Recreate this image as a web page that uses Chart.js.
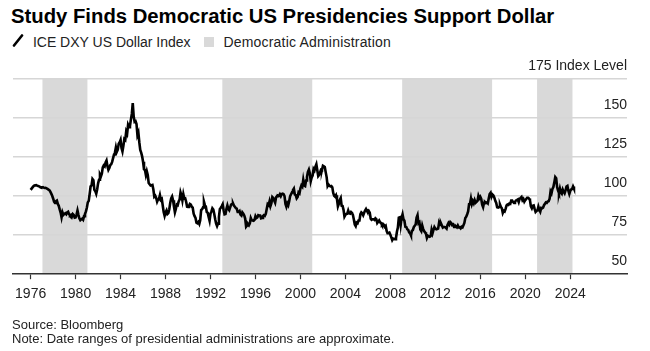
<!DOCTYPE html>
<html lang="en">
<head>
<meta charset="UTF-8">
<title>Study Finds Democratic US Presidencies Support Dollar</title>
<script src="https://cdn.jsdelivr.net/npm/chart.js"></script>
<style>
  body { margin: 0; width: 650px; height: 351px; background: #fff; position: relative; overflow: hidden;
         font-family: 'Liberation Sans', Arial, sans-serif; color: #000; }
  .title { position: absolute; left: 11px; top: 5px; font-size: 20.3px; font-weight: bold; white-space: nowrap; }
  .legend { position: absolute; left: 12px; top: 33px; font-size: 14px; color: #222; white-space: nowrap; }
  .legend span { display: inline-block; vertical-align: middle; }
  .swatch { width: 10px; height: 10px; background: #d9d9d9; margin: 0 5px 0 10px; }
  .footer { position: absolute; left: 12px; top: 318px; font-size: 13px; line-height: 14px; color: #222; }
  #chart { position: absolute; left: 0; top: 0; }
</style>
</head>
<body>
  <div class="title">Study Finds Democratic US Presidencies Support Dollar</div>
  <div class="legend">
    <span><svg width="12" height="13" viewBox="0 0 12 13"><line x1="2" y1="11.5" x2="10" y2="1.5" stroke="#000" stroke-width="2.6" stroke-linecap="round"/></svg></span>
    <span style="margin-left:5px">ICE DXY US Dollar Index</span>
    <span class="swatch"></span>
    <span style="letter-spacing:0.2px">Democratic Administration</span>
  </div>
  <canvas id="chart" width="650" height="351"></canvas>
  <div class="footer">Source: Bloomberg<br>Note: Date ranges of presidential administrations are approximate.</div>

<script>
// monthly ICE DXY readings, first value = January 1976
const startYear = 1976;
const dxy1970s = [
  104.0, 104.8, 105.6, 106.3, 106.8, 106.9, 107.0, 106.7, 106.5, 106.2, 105.9, 105.6,
  105.6, 105.8, 105.4, 105.2, 105.3, 105.0, 104.6, 104.2, 103.8, 102.8, 101.6, 100.2,
  98.5, 96.5, 95.6, 96.8, 97.2, 95.0, 93.8, 91.5, 89.5, 86.4, 89.6, 88.0,
  88.6, 89.0, 88.4, 89.6, 90.0, 88.4, 87.6, 88.0, 86.8, 88.5, 87.9, 86.2
];
const dxy1980s = [
  86.4, 88.2, 90.8, 88.0, 85.8, 84.6, 85.2, 85.6, 84.9, 87.2, 88.5, 90.2,
  92.5, 96.0, 97.0, 101.4, 106.2, 106.8, 111.0, 110.2, 104.0, 103.2, 101.5, 104.3,
  108.2, 110.5, 113.8, 112.6, 114.4, 118.4, 119.6, 119.0, 121.5, 122.8, 119.2, 116.8,
  118.0, 119.8, 120.4, 121.9, 124.3, 126.7, 128.0, 131.2, 128.4, 129.8, 133.6, 134.4,
  136.0, 130.8, 128.6, 132.2, 136.6, 136.0, 141.4, 140.0, 145.6, 144.2, 144.8, 149.0,
  152.6, 159.5, 151.0, 147.6, 148.0, 146.2, 139.0, 140.6, 134.5, 129.6, 127.8, 125.5,
  122.0, 117.2, 116.8, 113.5, 116.0, 113.6, 108.4, 107.6, 106.8, 107.0, 107.2, 104.2,
  99.6, 100.2, 98.8, 96.4, 97.8, 98.2, 100.6, 97.6, 98.2, 94.0, 89.8, 87.4,
  89.6, 90.8, 88.6, 89.2, 91.6, 95.6, 98.6, 99.8, 97.4, 93.2, 89.6, 91.8,
  94.6, 94.2, 96.6, 97.8, 102.4, 100.4, 97.2, 101.2, 98.4, 98.6, 96.4, 93.2
];
const dxy1990s = [
  93.0, 93.6, 95.0, 94.6, 93.2, 92.6, 88.8, 87.2, 86.0, 83.0, 82.6, 83.4,
  82.2, 84.6, 91.0, 91.6, 92.8, 96.4, 94.2, 93.4, 89.8, 89.4, 86.6, 84.2,
  88.8, 90.2, 92.2, 91.4, 88.6, 85.2, 82.4, 80.8, 82.4, 86.8, 91.8, 92.6,
  93.6, 94.8, 91.0, 88.4, 88.6, 91.8, 94.0, 91.8, 91.0, 92.8, 94.6, 95.0,
  95.4, 94.0, 93.2, 92.4, 92.0, 89.8, 89.8, 90.4, 88.2, 87.6, 89.6, 88.8,
  87.6, 85.6, 80.4, 81.2, 82.2, 81.4, 82.6, 86.0, 84.6, 84.4, 84.2, 84.8,
  87.2, 86.0, 86.4, 87.8, 87.6, 87.6, 85.8, 86.0, 87.2, 87.8, 87.4, 88.6,
  91.8, 94.8, 94.2, 96.6, 93.6, 95.4, 99.4, 98.8, 97.2, 95.8, 99.2, 100.0,
  100.4, 100.2, 101.2, 100.0, 101.4, 101.6, 101.2, 100.0, 95.0, 93.2, 95.4, 94.2,
  96.8, 100.0, 101.2, 102.4, 103.8, 104.8, 101.0, 100.6, 98.6, 99.4, 102.4, 101.8
];
const dxy2000s = [
  105.0, 106.8, 106.0, 110.4, 106.8, 106.4, 110.0, 112.4, 115.6, 117.0, 114.6, 109.6,
  112.0, 113.2, 117.4, 116.4, 118.8, 120.4, 116.6, 112.8, 113.6, 115.2, 117.0, 116.8,
  119.4, 119.0, 118.6, 115.2, 112.0, 106.4, 107.4, 106.6, 106.2, 106.4, 105.6, 102.0,
  100.2, 99.6, 100.6, 98.0, 93.4, 95.0, 97.6, 98.8, 93.8, 93.6, 91.2, 86.9,
  88.0, 88.6, 88.8, 90.8, 89.0, 88.8, 89.8, 89.2, 88.0, 85.0, 81.8, 80.8,
  83.0, 82.6, 84.4, 84.4, 88.4, 89.6, 89.0, 87.8, 89.4, 90.8, 91.8, 90.6,
  89.4, 90.4, 89.4, 85.6, 84.8, 85.2, 85.2, 84.8, 85.8, 85.2, 82.8, 83.6,
  84.4, 83.2, 82.8, 81.6, 82.2, 81.6, 80.4, 81.0, 77.8, 76.2, 76.2, 76.6,
  75.2, 73.6, 71.8, 72.8, 72.6, 72.4, 73.2, 77.2, 79.8, 86.2, 86.4, 81.4,
  86.2, 88.4, 85.2, 84.2, 80.4, 80.2, 78.8, 78.4, 76.8, 76.2, 74.8, 77.8
];
const dxy2010s = [
  78.2, 80.2, 81.0, 81.8, 86.2, 87.8, 82.6, 83.2, 78.6, 77.6, 81.2, 79.0,
  77.6, 76.8, 75.8, 73.2, 74.6, 74.2, 74.0, 74.4, 78.4, 76.2, 78.4, 80.2,
  79.2, 78.8, 79.0, 79.2, 83.0, 81.6, 82.6, 81.2, 79.8, 80.2, 80.2, 79.8,
  79.2, 81.6, 82.8, 81.8, 83.4, 82.8, 81.4, 81.8, 80.2, 80.2, 80.6, 80.0,
  81.2, 80.0, 80.0, 79.4, 80.4, 80.0, 81.4, 82.8, 86.0, 86.8, 88.4, 90.2,
  94.8, 95.2, 98.4, 95.0, 96.8, 95.4, 97.4, 95.8, 96.4, 97.0, 100.2, 98.6,
  99.6, 98.2, 94.6, 93.0, 95.8, 96.2, 95.6, 96.0, 95.4, 98.4, 101.4, 102.2,
  99.6, 101.0, 100.4, 99.0, 97.0, 95.6, 92.8, 92.6, 93.0, 94.6, 93.0, 92.2,
  89.2, 90.6, 90.2, 91.8, 94.0, 94.6, 94.4, 95.2, 95.0, 97.2, 97.2, 96.2,
  95.6, 96.2, 97.2, 97.4, 97.8, 96.2, 98.4, 98.8, 99.4, 97.4, 98.2, 96.4
];
const dxy2020s = [
  97.4, 98.2, 99.0, 99.0, 98.4, 97.4, 93.4, 92.2, 93.8, 94.0, 91.8, 89.9,
  90.6, 90.8, 93.2, 91.2, 90.0, 92.4, 92.2, 92.6, 94.2, 94.2, 96.0, 95.7,
  96.6, 96.8, 98.4, 103.0, 101.8, 104.6, 105.8, 108.8, 112.2, 111.4, 105.8, 103.5,
  102.0, 104.8, 102.4, 101.6, 104.2, 102.8, 101.8, 103.6, 106.2, 106.6, 103.4, 101.4,
  103.4, 104.2, 104.6, 106.2, 104.8
];

// Democratic administrations (approximate start / end, decimal years)
const demTerms = [
  ['Carter', 1977.05, 1981.05],
  ['Clinton', 1993.05, 2001.05],
  ['Obama', 2009.05, 2017.05],
  ['Biden', 2021.05, 2024.2]
];

const xTicks = [1976, 1980, 1984, 1988, 1992, 1996, 2000, 2004, 2008, 2012, 2016, 2020, 2024];
const yTicks = [50, 75, 100, 125, 150, 175];

const dxyValues = [].concat(dxy1970s, dxy1980s, dxy1990s, dxy2000s, dxy2010s, dxy2020s);
const points = dxyValues.map((v, i) => ({ x: startYear + i / 12, y: v }));

Chart.defaults.font.family = "'Liberation Sans', Arial, sans-serif";

// grey bands behind the grid for Democratic presidencies
const demShade = {
  id: 'demShade',
  beforeDraw(chart) {
    const { ctx, chartArea, scales: { x } } = chart;
    ctx.save();
    ctx.fillStyle = '#d9d9d9';
    demTerms.forEach(([name, start, end]) => {
      const x0 = x.getPixelForValue(start);
      const x1 = x.getPixelForValue(end);
      ctx.fillRect(x0, chartArea.top, x1 - x0, chartArea.bottom - chartArea.top);
    });
    ctx.restore();
  }
};

new Chart(document.getElementById('chart'), {
  type: 'line',
  data: {
    datasets: [{
      label: 'ICE DXY US Dollar Index',
      data: points,
      borderColor: '#000',
      borderWidth: 2.6,
      pointRadius: 0,
      tension: 0,
      fill: false
    }]
  },
  options: {
    responsive: false,
    animation: false,
    devicePixelRatio: 1,
    layout: { padding: { left: 13, right: 23, top: 79, bottom: 41 } },
    plugins: { legend: { display: false }, tooltip: { enabled: false } },
    scales: {
      x: {
        type: 'linear',
        min: 1974.43,
        max: 2029.05,
        afterBuildTicks: axis => { axis.ticks = xTicks.map(v => ({ value: v })); },
        ticks: {
          callback: v => String(v),
          autoSkip: false,
          maxRotation: 0,
          padding: 7,
          color: '#222',
          font: { size: 14 }
        },
        grid: { drawOnChartArea: false, drawTicks: true, tickLength: 5, tickColor: '#333', tickWidth: 1.2 },
        border: { display: true, color: '#333', width: 1.5 }
      },
      y: {
        type: 'linear',
        position: 'right',
        min: 50,
        max: 175,
        afterBuildTicks: axis => { axis.ticks = yTicks.map(v => ({ value: v })); },
        ticks: {
          mirror: true,
          padding: 0,
          labelOffset: -13,
          color: '#222',
          font: { size: 14 },
          callback: v => (v === 175 ? '175 Index Level' : String(v))
        },
        grid: {
          drawTicks: false,
          lineWidth: 1.5,
          color: c => (c.tick && c.tick.value === 50 ? 'rgba(0,0,0,0)' : '#d6d6d6')
        },
        border: { display: false }
      }
    }
  },
  plugins: [demShade]
});
</script>
</body>
</html>
